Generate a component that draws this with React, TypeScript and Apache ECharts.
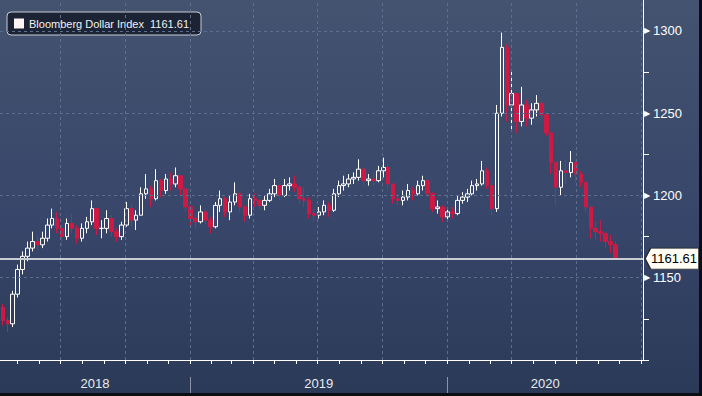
import React, { useEffect, useRef } from 'react';
import * as echarts from 'echarts';

const SERIES_NAME = 'Bloomberg Dollar Index';
const LAST = 1161.61;
const FIRST_WEEK = '2018-04-11';
const X_MIN = '2018-04-07';
const X_MAX = '2020-10-04';

// weekly OHLC
const OPEN = [
  1132, 1124, 1122, 1140, 1155, 1163, 1168, 1172, 1170, 1174,
  1182, 1186, 1180, 1175, 1183, 1180, 1174, 1180, 1184, 1192,
  1180, 1180, 1186, 1178, 1175, 1182, 1192, 1185, 1188, 1201,
  1204, 1198, 1209, 1203, 1210, 1207, 1212, 1204, 1193, 1186,
  1184, 1190, 1185, 1181, 1194, 1198, 1190, 1196, 1201, 1193,
  1188, 1198, 1197, 1194, 1197, 1201, 1206, 1200, 1206, 1207,
  1205, 1198, 1197, 1189, 1188, 1190, 1194, 1191, 1201, 1206,
  1207, 1210, 1211, 1216, 1209, 1210, 1209, 1215, 1217, 1207,
  1198, 1197, 1199, 1203, 1201, 1206, 1209, 1201, 1192, 1193,
  1187, 1190, 1189, 1197, 1199, 1201, 1206, 1207, 1215, 1206,
  1192, 1250, 1290, 1255, 1262, 1245, 1255, 1247, 1252, 1256,
  1249, 1238, 1220, 1205, 1215, 1214, 1220, 1213, 1208, 1193,
  1180, 1178, 1177, 1172, 1170,
];
const CLOSE = [
  1124, 1122, 1140, 1155, 1163, 1168, 1172, 1170, 1174, 1182,
  1186, 1180, 1175, 1183, 1180, 1174, 1180, 1184, 1192, 1180,
  1180, 1186, 1178, 1175, 1182, 1192, 1185, 1188, 1201, 1204,
  1198, 1209, 1203, 1210, 1207, 1212, 1204, 1193, 1186, 1184,
  1190, 1185, 1181, 1194, 1198, 1190, 1196, 1201, 1193, 1188,
  1198, 1197, 1194, 1197, 1201, 1206, 1200, 1206, 1207, 1205,
  1198, 1197, 1189, 1188, 1190, 1194, 1191, 1201, 1206, 1207,
  1210, 1211, 1216, 1209, 1210, 1209, 1215, 1217, 1207, 1198,
  1197, 1199, 1203, 1201, 1206, 1209, 1201, 1192, 1193, 1187,
  1190, 1189, 1197, 1199, 1201, 1206, 1207, 1215, 1206, 1192,
  1250, 1290, 1255, 1262, 1245, 1255, 1247, 1252, 1256, 1249,
  1238, 1220, 1205, 1215, 1214, 1220, 1213, 1208, 1193, 1180,
  1178, 1177, 1172, 1170, 1161.61,
];
const LOW = [
  1121, 1117, 1120, 1138, 1152, 1160, 1166, 1167, 1168, 1172,
  1180, 1177, 1169, 1173, 1177, 1171, 1172, 1177, 1182, 1176,
  1174, 1177, 1175, 1172, 1173, 1181, 1181, 1179, 1188, 1198,
  1193, 1197, 1199, 1201, 1203, 1205, 1200, 1190, 1182, 1180,
  1183, 1182, 1177, 1180, 1190, 1187, 1185, 1194, 1190, 1184,
  1186, 1193, 1191, 1191, 1196, 1199, 1197, 1199, 1203, 1202,
  1195, 1193, 1186, 1184, 1186, 1188, 1187, 1190, 1199, 1203,
  1205, 1207, 1209, 1206, 1206, 1206, 1208, 1211, 1204, 1195,
  1194, 1194, 1197, 1197, 1200, 1203, 1199, 1190, 1189, 1184,
  1185, 1186, 1188, 1195, 1196, 1200, 1203, 1206, 1204, 1188,
  1190, 1248, 1245, 1240, 1238, 1242, 1242, 1243, 1248, 1245,
  1236, 1213, 1194, 1200, 1207, 1211, 1208, 1205, 1190, 1174,
  1173, 1172, 1168, 1165, 1161,
];
const HIGH = [
  1134, 1126, 1142, 1158, 1166, 1172, 1178, 1176, 1178, 1186,
  1192, 1190, 1182, 1186, 1189, 1182, 1183, 1187, 1197, 1192,
  1185, 1191, 1188, 1180, 1184, 1196, 1195, 1191, 1205, 1213,
  1206, 1216, 1210, 1213, 1214, 1217, 1212, 1204, 1194, 1189,
  1194, 1192, 1187, 1196, 1203, 1199, 1200, 1208, 1202, 1194,
  1201, 1201, 1198, 1200, 1204, 1210, 1207, 1210, 1211, 1212,
  1206, 1205, 1199, 1192, 1193, 1197, 1196, 1204, 1209, 1212,
  1213, 1214, 1222, 1217, 1213, 1214, 1218, 1223, 1219, 1207,
  1201, 1203, 1207, 1205, 1209, 1212, 1210, 1202, 1197, 1194,
  1192, 1193, 1200, 1202, 1204, 1209, 1210, 1221, 1217, 1208,
  1255, 1299, 1292, 1275, 1262, 1266, 1258, 1256, 1261, 1258,
  1250, 1238, 1220, 1221, 1222, 1227, 1222, 1215, 1208, 1193,
  1184, 1185, 1178, 1176, 1172,
];

const Y_LABELS = [1150, 1200, 1250, 1300];
const Y_TICKS = [1100, 1125, 1150, 1175, 1200, 1225, 1250, 1275, 1300];
const Y_MIN = 1100;
const Y_MAX = 1318.8;
const YEAR_STARTS = ['2019-01-01', '2020-01-01'];
const QUARTER_LINES = [
  '2018-07-01', '2018-10-01', '2019-01-01', '2019-04-01', '2019-07-01',
  '2019-10-01', '2020-01-01', '2020-04-01', '2020-07-01', '2020-10-01',
];
const MONTH_TICKS = [
  '2018-05-01', '2018-06-01', '2018-07-01', '2018-08-01', '2018-09-01', '2018-10-01', '2018-11-01', '2018-12-01',
  '2019-01-01', '2019-02-01', '2019-03-01', '2019-04-01', '2019-05-01', '2019-06-01', '2019-07-01', '2019-08-01',
  '2019-09-01', '2019-10-01', '2019-11-01', '2019-12-01', '2020-01-01', '2020-02-01', '2020-03-01', '2020-04-01',
  '2020-05-01', '2020-06-01', '2020-07-01', '2020-08-01', '2020-09-01', '2020-10-01',
];

const ts = (s: string) => Date.parse(s + 'T00:00:00Z');
const WEEK_MS = 7 * 86400000;

export default function App() {
  const ref = useRef<HTMLDivElement>(null);
  useEffect(() => {
    const chart = echarts.init(ref.current!, null, { renderer: 'svg' });
    const start = ts(FIRST_WEEK);
    const data = CLOSE.map((c, i) => [start + i * WEEK_MS, OPEN[i], c, LOW[i], HIGH[i]]);
    const xMin = ts(X_MIN);
    const xMax = ts(X_MAX);
    const y19 = ts(YEAR_STARTS[0]);
    const y20 = ts(YEAR_STARTS[1]);
    const yearLabelPos = [(xMin + y19) / 2, (y19 + y20) / 2, (y20 + xMax) / 2];
    const font = 'Liberation Sans, Arial, sans-serif';
    const gridLine = { color: '#5d6f8c', type: [3, 3], width: 1 };

    const option: any = {
      animation: false,
      legend: {
        left: 7,
        top: 12,
        padding: [6, 12, 6, 7],
        itemWidth: 10,
        itemHeight: 10,
        backgroundColor: 'rgba(22,29,44,0.88)',
        borderColor: '#c9cdd6',
        borderWidth: 1,
        borderRadius: 4,
        textStyle: { color: '#f2f2f2', fontSize: 11, fontFamily: font },
        formatter: (name: string) => `${name}\u00a0\u00a0${LAST}`,
        data: [{ name: SERIES_NAME, icon: 'rect', itemStyle: { color: '#fff5f5', borderWidth: 0 } }],
      },
      grid: { left: 0, right: 56, top: 0, bottom: 33 },
      xAxis: [
        {
          type: 'value',
          min: xMin,
          max: xMax,
          position: 'bottom',
          axisLine: { show: true, lineStyle: { color: '#ffffff', width: 1 } },
          axisTick: {
            show: true,
            customValues: MONTH_TICKS.map(ts),
            length: 4,
            lineStyle: { color: '#ffffff' },
          },
          axisLabel: {
            show: true,
            customValues: yearLabelPos,
            formatter: (v: number) => String(new Date(v).getUTCFullYear()),
            margin: 17,
            color: '#e9ebef',
            fontSize: 13,
            fontFamily: font,
          },
          splitLine: { show: false },
        },
        {
          type: 'value',
          min: xMin,
          max: xMax,
          position: 'bottom',
          offset: 17,
          axisLine: { show: false },
          axisTick: {
            show: true,
            customValues: YEAR_STARTS.map(ts),
            length: 16,
            lineStyle: { color: '#8a94a6' },
          },
          axisLabel: { show: false },
          splitLine: { show: false },
        },
      ],
      yAxis: {
        type: 'value',
        position: 'right',
        min: Y_MIN,
        max: Y_MAX,
        interval: 50,
        axisLine: { show: true, lineStyle: { color: '#ffffff', width: 1 } },
        axisTick: {
          show: true,
          customValues: Y_TICKS,
          length: 6,
          lineStyle: { color: '#ffffff' },
        },
        axisLabel: {
          customValues: Y_LABELS,
          margin: 1,
          formatter: (v: number) => `{t|▶}{n|${v}}`,
          rich: {
            t: { fontSize: 8, color: '#ffffff', width: 9, fontFamily: 'DejaVu Sans' },
            n: { fontSize: 13, color: '#ffffff', fontFamily: font },
          },
        },
        splitLine: { show: false },
      },
      series: [
        {
          type: 'line',
          data: [],
          z: 1,
          silent: true,
          markLine: {
            silent: true,
            symbol: ['none', 'none'],
            label: { show: false },
            lineStyle: gridLine,
            data: [
              ...QUARTER_LINES.map((d) => ({ xAxis: ts(d) })),
              ...Y_LABELS.map((v) => ({ yAxis: v })),
            ],
          },
        },
        {
          type: 'candlestick',
          name: SERIES_NAME,
          z: 3,
          barWidth: 4,
          encode: { x: 0, y: [1, 2, 3, 4] },
          data,
          itemStyle: {
            color: 'transparent',
            color0: '#cc1a44',
            borderColor: '#ffffff',
            borderColor0: '#cc1a44',
            borderWidth: 1,
          },
          markLine: {
            silent: true,
            symbol: ['none', 'none'],
            label: { show: false },
            lineStyle: { color: '#c8ccd3', type: 'solid', width: 2 },
            data: [{ yAxis: LAST }],
          },
          markPoint: {
            silent: true,
            symbol: 'path://M0,10 L6,0 L58,0 L58,20 L6,20 Z',
            symbolSize: [54, 21],
            symbolOffset: [29, 0],
            itemStyle: { color: '#fffdf4', borderColor: '#2a2a2a', borderWidth: 1 },
            label: {
              show: true,
              position: 'inside',
              offset: [2, 0],
              color: '#000000',
              fontSize: 13,
              fontFamily: font,
              formatter: () => String(LAST),
            },
            data: [{ coord: [xMax, LAST], value: LAST }],
          },
        },
      ],
    };
    chart.setOption(option);
    return () => chart.dispose();
  }, []);

  return (
    <div
      style={{
        position: 'fixed',
        left: 0,
        top: 0,
        width: 702,
        height: 396,
        boxSizing: 'border-box',
        borderRight: '3px solid #0b0e14',
        borderBottom: '3px solid #0b0e14',
        background: 'linear-gradient(180deg, #44536f 0%, #37466a 55%, #2b3a57 100%)',
      }}
    >
      <div ref={ref} style={{ width: 699, height: 393 }} />
    </div>
  );
}
